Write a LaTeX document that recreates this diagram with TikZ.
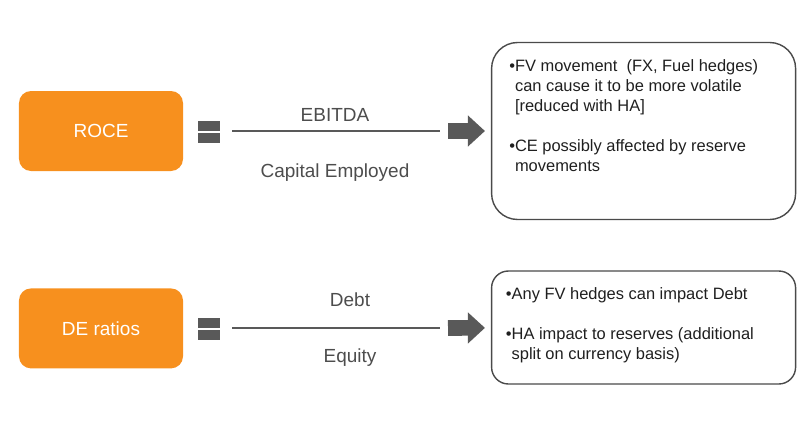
\documentclass[tikz,border=0pt]{standalone}
\usepackage{fontspec}
\setmainfont{Liberation Sans}
\usetikzlibrary{arrows.meta}
\definecolor{ratioorange}{HTML}{F7901E}
\definecolor{ratiogray}{HTML}{595959}
\definecolor{labelgray}{HTML}{4D4D4D}
\definecolor{notegray}{HTML}{4A4A4A}
\definecolor{notedark}{HTML}{1F1F1F}

\begin{document}
\begin{tikzpicture}[
		ratiobox/.style={rectangle,rounded corners=0.3cm,fill=ratioorange,minimum width=4.1cm,minimum height=2cm,text=white,font=\fontsize{13.5pt}{16pt}\selectfont},
		eqbar/.style={rectangle,fill=ratiogray,minimum width=0.55cm,minimum height=0.25cm,inner sep=0pt},
		fracbar/.style={line width=2.1pt,color=ratiogray},
		termlabel/.style={anchor=base,text=labelgray,font=\fontsize{13.5pt}{16pt}\selectfont},
		bigarrow/.style={-{Triangle[length=0.425cm,width=0.78cm,line width=0pt]},line width=0.39cm,color=ratiogray,shorten <=0.2cm,shorten >=0.15cm},
		notebox/.style={rectangle,draw=notegray,line width=1pt,minimum width=7.6cm},
		notetext/.style={anchor=north west,inner sep=0pt,align=left,text=notedark,font=\fontsize{11.7pt}{14.2pt}\selectfont}
	]
			\useasboundingbox (0,0) rectangle (20,11.1);
			\node[ratiobox] (roce) at (2.525,7.825){ROCE};
			\node[ratiobox] (de) at (2.525,2.89){DE ratios};
			\node[eqbar] (eq1a) at (5.225,7.95){};
			\node[eqbar] (eq1b) at (5.225,7.65){};
			\node[eqbar] (eq2a) at (5.225,3.0375){};
			\node[eqbar] (eq2b) at (5.225,2.7375){};
			\coordinate (f1w) at (5.8,7.825);
			\coordinate (f1e) at (11.0,7.825);
			\coordinate (f2w) at (5.8,2.9);
			\coordinate (f2e) at (11.0,2.9);
			\draw (f1w) edge [fracbar] (f1e);
			\draw (f2w) edge [fracbar] (f2e);
			\node[termlabel] (ebitda) at (8.375,8.075){EBITDA};
			\node[termlabel] (capital) at (8.375,6.675){Capital Employed};
			\node[termlabel] (debt) at (8.75,3.45){Debt};
			\node[termlabel] (equity) at (8.75,2.05){Equity};
			\node[notebox,minimum height=4.425cm,rounded corners=0.65cm] (n1) at (16.09,7.825){};
			\node[notebox,minimum height=2.825cm,rounded corners=0.42cm] (n2) at (16.09,2.9125){};
			\node[notetext] (t1) at (12.725,9.675){\strut\textbullet FV movement~ (FX, Fuel hedges)\\
				\phantom{\textbullet}can cause it to be more volatile\\
				\phantom{\textbullet}[reduced with HA]\\[0.5cm]
				\textbullet CE possibly affected by reserve\\
				\phantom{\textbullet}movements};
			\node[notetext] (t2) at (12.64,3.975){\strut\textbullet Any FV hedges can impact Debt\\[0.5cm]
				\textbullet HA impact to reserves (additional\\
				\phantom{\textbullet}split on currency basis)};
			\draw (f1e) edge [bigarrow] (n1);
			\draw (f2e) edge [bigarrow] (n2);
		\end{tikzpicture}
\end{document}
